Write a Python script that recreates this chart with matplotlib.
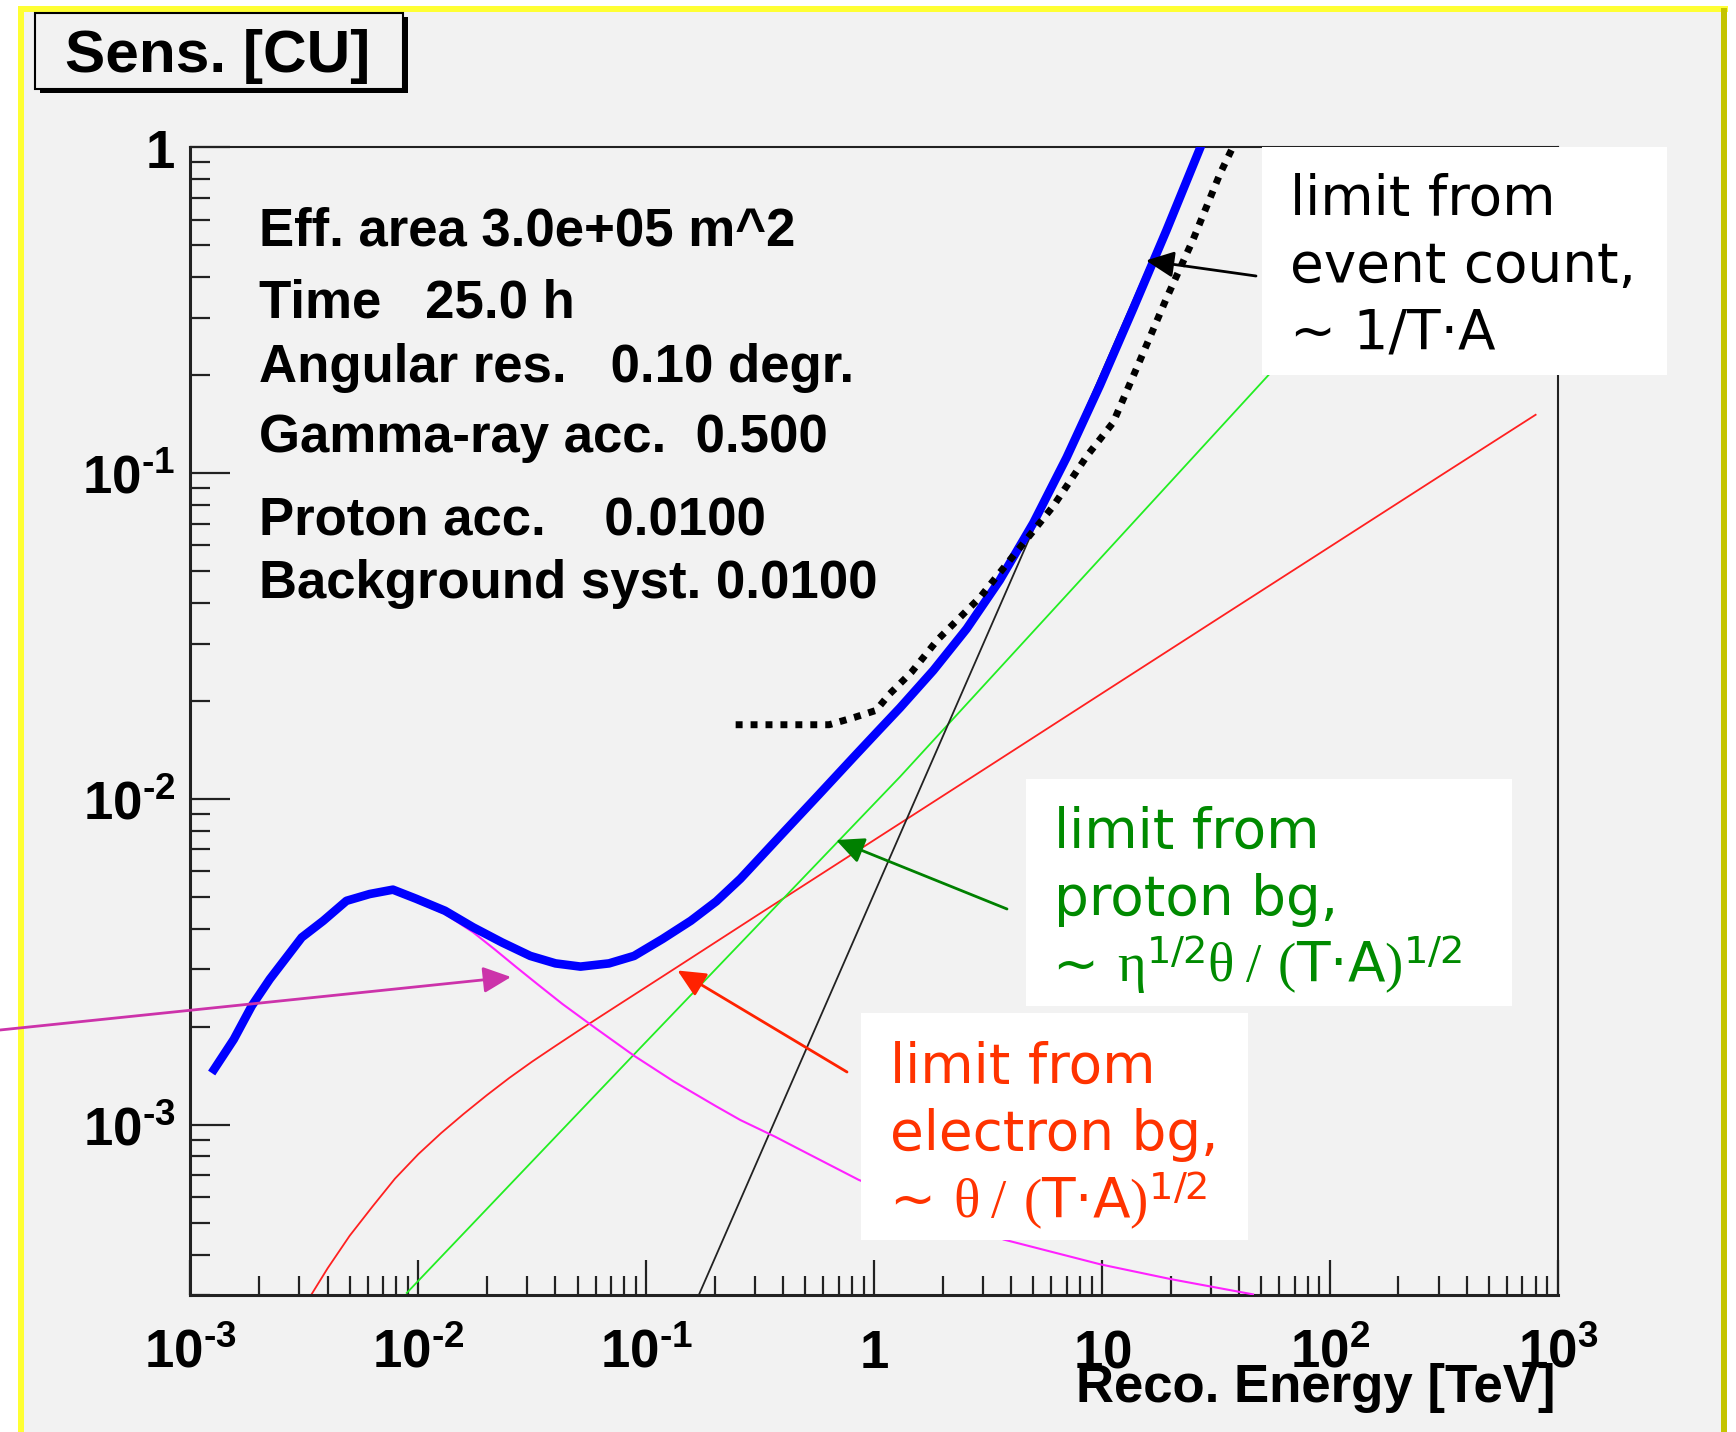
import matplotlib
matplotlib.use('Agg')
import matplotlib.pyplot as plt
from matplotlib.patches import Rectangle, FancyArrowPatch
from matplotlib.ticker import LogLocator, NullFormatter

# total sensitivity (thick blue)
e_total = [1.27e-3, 1.55e-3, 1.86e-3, 2.23e-3, 2.67e-3, 3.08e-3, 3.83e-3, 4.84e-3, 6.12e-3, 7.74e-3,
           9.8e-3, 1.31e-2, 1.74e-2, 2.33e-2, 3.10e-2, 4.0e-2, 5.15e-2, 6.87e-2, 8.85e-2, 0.118,
           0.157, 0.203, 0.259, 0.4, 0.57, 0.82, 1.05, 1.3, 1.82, 2.55, 3.56, 5.0, 7.0, 9.8, 13.7,
           19.2, 26.9]
s_total = [1.48e-3, 1.83e-3, 2.32e-3, 2.80e-3, 3.30e-3, 3.76e-3, 4.23e-3, 4.87e-3, 5.11e-3, 5.27e-3,
           4.94e-3, 4.54e-3, 4.04e-3, 3.63e-3, 3.30e-3, 3.13e-3, 3.06e-3, 3.13e-3, 3.30e-3, 3.72e-3,
           4.23e-3, 4.85e-3, 5.69e-3, 7.89e-3, 1.028e-2, 1.352e-2, 1.626e-2, 1.905e-2, 2.48e-2,
           3.33e-2, 4.69e-2, 7.03e-2, 0.1117, 0.186, 0.319, 0.556, 0.99]

# magenta component
e_mag = [1.27e-3, 1.55e-3, 1.86e-3, 2.23e-3, 2.67e-3, 3.08e-3, 3.83e-3, 4.84e-3, 6.12e-3, 7.74e-3,
         9.8e-3, 1.31e-2, 1.74e-2, 2.16e-2, 2.69e-2, 3.34e-2, 4.29e-2, 5.94e-2, 8.85e-2, 0.132,
         0.203, 0.259, 0.368, 0.473, 0.857, 3.7, 9.9, 20.2, 46]
s_mag = [1.44e-3, 1.80e-3, 2.28e-3, 2.76e-3, 3.26e-3, 3.72e-3, 4.19e-3, 4.83e-3, 5.07e-3, 5.2e-3,
         4.85e-3, 4.44e-3, 3.90e-3, 3.46e-3, 3.05e-3, 2.70e-3, 2.35e-3, 1.99e-3, 1.63e-3, 1.36e-3,
         1.14e-3, 1.035e-3, 9.2e-4, 8.4e-4, 6.78e-4, 4.45e-4, 3.73e-4, 3.36e-4, 3.02e-4]

# electron background limit (red)
e_ele = [3.4e-3, 4.0e-3, 5.0e-3, 6.3e-3, 7.9e-3, 1.0e-2, 1.26e-2, 1.58e-2, 2.0e-2, 2.51e-2,
         3.16e-2, 3.98e-2, 5.01e-2, 6.31e-2, 7.94e-2, 0.1, 0.14, 0.32, 1.0, 3.2, 10, 32, 100,
         320, 800]
s_ele = [3.02e-4, 3.63e-4, 4.57e-4, 5.62e-4, 6.84e-4, 8.13e-4, 9.44e-4, 1.08e-3, 1.234e-3,
         1.394e-3, 1.564e-3, 1.743e-3, 1.939e-3, 2.153e-3, 2.388e-3, 2.649e-3, 3.083e-3, 4.48e-3,
         7.48e-3, 1.262e-2, 2.109e-2, 3.56e-2, 5.94e-2, 0.1002, 0.151]

# proton background limit (green)
e_pro = [8.9e-3, 9.4e-2, 1.3, 53.5, 450]
s_pro = [3.05e-4, 1.72e-3, 1.17e-2, 0.199, 1.0]

# event count limit (black)
e_cnt = [0.17, 27]
s_cnt = [3.0e-4, 1.0]

# dotted reference curve
e_ref = [0.247, 0.40, 0.635, 0.82, 1.02, 1.17, 1.46, 1.90, 2.92, 4.08, 6.1, 8.6, 11.2, 14.7,
         19.2, 25.1, 33, 37]
s_ref = [1.69e-2, 1.69e-2, 1.69e-2, 1.78e-2, 1.87e-2, 2.1e-2, 2.45e-2, 3.08e-2, 4.16e-2, 5.57e-2,
         7.9e-2, 0.113, 0.143, 0.222, 0.344, 0.52, 0.83, 0.98]

x_ticks = [1e-3, 1e-2, 1e-1, 1, 10, 1e2, 1e3]
x_ticklabels = ['10^{\u20103}', '10^{\u20102}', '10^{\u20101}', '1', '10', '10^{2}', '10^{3}']
y_ticks = [1e-3, 1e-2, 1e-1, 1]
y_ticklabels = ['10^{\u20103}', '10^{\u20102}', '10^{\u20101}', '1']

stats = ['Eff. area 3.0e+05 m^2', 'Time   25.0 h', 'Angular res.   0.10 degr.',
         'Gamma-ray acc.  0.500', 'Proton acc.    0.0100', 'Background syst. 0.0100']
stats_base = [245, 318, 382, 452, 535, 598]

plt.rcParams['mathtext.fontset'] = 'custom'
plt.rcParams['mathtext.bf'] = 'Liberation Sans:bold'
plt.rcParams['mathtext.rm'] = 'Liberation Serif'
plt.rcParams['mathtext.it'] = 'Liberation Serif:italic'
plt.rcParams['mathtext.sf'] = 'DejaVu Sans'

W, H = 1736, 1432
GREY = '#f2f2f2'


def fx(px):
    return px / W


def fy(py):
    return 1 - py / H


fig = plt.figure(figsize=(W / 100, H / 100), dpi=100, facecolor='white')

# slide frame
fig.add_artist(Rectangle((fx(21), 0), fx(1725) - fx(21), fy(9), transform=fig.transFigure,
                         facecolor=GREY, edgecolor='none', zorder=-2))
fig.add_artist(Rectangle((fx(18), 0), fx(6), fy(6), transform=fig.transFigure,
                         facecolor='#ffff33', edgecolor='none', zorder=-1))
fig.add_artist(Rectangle((fx(18), fy(12)), fx(1710), fx(6) * W / H, transform=fig.transFigure,
                         facecolor='#ffff33', edgecolor='none', zorder=-1))
fig.add_artist(Rectangle((fx(1721), 0), fx(6), fy(8), transform=fig.transFigure,
                         facecolor='#c4c400', edgecolor='none', zorder=-1))

ax = fig.add_axes([fx(190.4), fy(1295.3), (1557.7 - 190.4) / W, (1295.3 - 147.2) / H])
ax.set_facecolor(GREY)
ax.set_xscale('log')
ax.set_yscale('log')

ax.plot(e_ele, s_ele, color='#ff2020', lw=1.3, zorder=2)
ax.plot(e_pro, s_pro, color='#22ee22', lw=1.3, zorder=2)
ax.plot(e_cnt, s_cnt, color='#222222', lw=1.3, zorder=2)
ax.plot(e_mag, s_mag, color='#ff22ff', lw=1.5, zorder=3)
ax.plot(e_total, s_total, color='#0000ff', lw=6.2, zorder=4, solid_joinstyle='round')
ax.plot(e_ref, s_ref, color='black', lw=5, ls=(0, (1, 1.15)), zorder=5)

ax.set_xlim(1e-3, 1e3)
ax.set_ylim(3.0e-4, 1)

ax.xaxis.set_minor_locator(LogLocator(base=10, subs=range(2, 10), numticks=100))
ax.yaxis.set_minor_locator(LogLocator(base=10, subs=range(2, 10), numticks=100))
ax.xaxis.set_minor_formatter(NullFormatter())
ax.yaxis.set_minor_formatter(NullFormatter())
ax.set_xticks(x_ticks)
ax.set_xticklabels([r'$\mathbf{%s}$' % t for t in x_ticklabels])
ax.set_yticks(y_ticks)
ax.set_yticklabels([r'$\mathbf{%s}$' % t for t in y_ticklabels])

ax.tick_params(axis='x', which='major', direction='in', length=25, width=1.6, color='#222222',
               labelsize=38, pad=52)
ax.tick_params(axis='x', which='minor', direction='in', length=13.5, width=1.6, color='#222222')
ax.tick_params(axis='y', which='major', direction='in', length=29, width=1.6, color='#222222',
               labelsize=38, pad=11)
ax.tick_params(axis='y', which='minor', direction='in', length=14.5, width=1.6, color='#222222')
for lbl in ax.get_xticklabels():
    lbl.set_va('baseline')

for side in ['left', 'bottom']:
    ax.spines[side].set_linewidth(2.2)
    ax.spines[side].set_color('#222222')
for side in ['top', 'right']:
    ax.spines[side].set_linewidth(1.5)
    ax.spines[side].set_color('#222222')

# stats text
for s, b in zip(stats, stats_base):
    fig.text(fx(259), fy(b), s, fontsize=38, fontweight='bold', family='Liberation Sans',
             va='baseline', ha='left')

fig.text(fx(1555), fy(1402), 'Reco. Energy [TeV]', fontsize=38, fontweight='bold',
         family='Liberation Sans', va='baseline', ha='right')

# title box with shadow
fig.add_artist(Rectangle((fx(39.5), fy(92.5)), fx(368), 75.3 / H, transform=fig.transFigure,
                         facecolor='black', edgecolor='none', zorder=4))
fig.add_artist(Rectangle((fx(35.4), fy(88.6)), fx(367.6), 75.3 / H, transform=fig.transFigure,
                         facecolor=GREY, edgecolor='black', lw=1.5, zorder=5))
fig.text(fx(65), fy(71.7), 'Sens. [CU]', fontsize=43.5, fontweight='bold',
         family='Liberation Sans', va='baseline', ha='left', zorder=6)

# annotation boxes
boxes = [(1262, 147, 1667, 375), (1026, 779, 1512, 1006), (861, 1013, 1248, 1240)]
for x0, y0, x1, y1 in boxes:
    fig.add_artist(Rectangle((fx(x0), fy(y1)), fx(x1 - x0), (y1 - y0) / H,
                             transform=fig.transFigure, facecolor='white', edgecolor='none',
                             zorder=5))

TXT = dict(fontsize=39.5, family='DejaVu Sans', va='baseline', ha='left', zorder=6)
fig.text(fx(1290), fy(215), 'limit from', color='black', **TXT)
fig.text(fx(1290), fy(282), 'event count,', color='black', **TXT)
fig.text(fx(1290), fy(348), '~ 1/T·A', color='black', **TXT)

GREEN = '#008a00'
fig.text(fx(1054), fy(848), 'limit from', color=GREEN, **TXT)
fig.text(fx(1054), fy(915), 'proton bg,', color=GREEN, **TXT)
fig.text(fx(1052), fy(982), '~', color=GREEN, **TXT)
fig.text(fx(1117), fy(982),
         r'$\mathrm{\eta}^{\mathsf{1/2}}\mathrm{\theta}\;\mathrm{/}\;\,\mathrm{(}\mathsf{T·A}\mathrm{)}^{\mathsf{1/2}}$',
         color=GREEN, **TXT)

RED = '#ff3300'
fig.text(fx(890), fy(1083), 'limit from', color=RED, **TXT)
fig.text(fx(890), fy(1150), 'electron bg,', color=RED, **TXT)
fig.text(fx(889), fy(1217), '~', color=RED, **TXT)
fig.text(fx(953), fy(1217),
         r'$\mathrm{\theta}\;\mathrm{/}\;\,\mathrm{(}\mathsf{T·A}\mathrm{)}^{\mathsf{1/2}}$',
         color=RED, **TXT)

# arrows
arrows = [((1256, 276), (1146, 260.5), 'black'),
          ((1007, 909), (836, 840), '#008000'),
          ((847, 1072), (677.5, 970.5), '#ff2200'),
          ((0, 1030), (511, 977), '#cc33aa')]
for (x0, y0), (x1, y1), c in arrows:
    fig.add_artist(FancyArrowPatch((fx(x0), fy(y0)), (fx(x1), fy(y1)), transform=fig.transFigure,
                                   arrowstyle='-|>,head_length=17,head_width=8', mutation_scale=1,
                                   lw=2, color=c, shrinkA=0, shrinkB=0, zorder=7))

fig.savefig('out.png', dpi=100)
